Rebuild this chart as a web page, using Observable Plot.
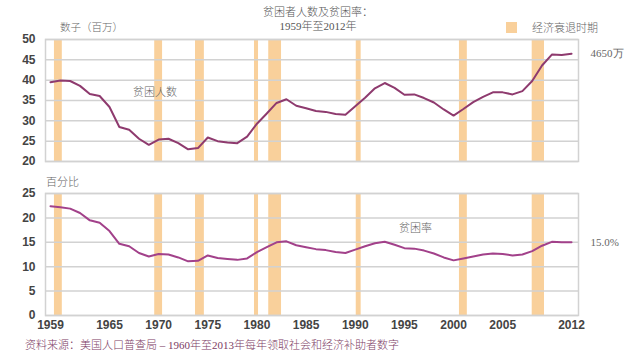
<!DOCTYPE html>
<html><head><meta charset="utf-8">
<script src="https://cdn.jsdelivr.net/npm/d3@7"></script>
<script src="https://cdn.jsdelivr.net/npm/@observablehq/plot@0.6"></script>
<style>
body{margin:0;background:#fff;}
#wrap{position:relative;width:640px;height:360px;overflow:hidden;font-family:"Liberation Serif","Noto Sans CJK SC",serif;}
.t{position:absolute;white-space:nowrap;color:#666;font-size:11px;line-height:1;transform:translateY(-50%);font-weight:300;}
.p{position:absolute;}
</style></head><body><div id="wrap"></div>
<script>
const years = [1959,1960,1961,1962,1963,1964,1965,1966,1967,1968,1969,1970,1971,1972,1973,1974,1975,1976,1977,1978,1979,1980,1981,1982,1983,1984,1985,1986,1987,1988,1989,1990,1991,1992,1993,1994,1995,1996,1997,1998,1999,2000,2001,2002,2003,2004,2005,2006,2007,2008,2009,2010,2011,2012];
const povertyCount = [39.5,39.9,39.8,38.6,36.6,36.1,33.4,28.5,27.8,25.6,24.1,25.4,25.6,24.5,23.0,23.3,25.9,25.0,24.7,24.5,26.1,29.3,31.8,34.4,35.3,33.7,33.1,32.4,32.2,31.7,31.5,33.6,35.7,38.0,39.3,38.1,36.4,36.5,35.6,34.5,32.8,31.3,32.9,34.6,35.9,37.0,37.0,36.5,37.3,39.8,43.6,46.3,46.2,46.5];
const povertyRate = [22.4,22.2,21.9,21.0,19.5,19.0,17.3,14.7,14.2,12.8,12.1,12.6,12.5,11.9,11.1,11.2,12.3,11.8,11.6,11.4,11.7,13.0,14.0,15.0,15.2,14.4,14.0,13.6,13.4,13.0,12.8,13.5,14.2,14.8,15.1,14.5,13.8,13.7,13.3,12.7,11.9,11.3,11.7,12.1,12.5,12.7,12.6,12.3,12.5,13.2,14.3,15.1,15.0,15.0];
const recessionStart = [1959.4,1969.6,1973.75,1979.75,1981.2,1990.1,2000.6,2008.0];
const recessionEnd   = [1960.2,1970.4,1974.65,1980.16,1982.5,1990.6,2001.4,2009.25];
const xTicks = [1959,1965,1970,1975,1980,1985,1990,1995,2000,2005,2012];
const yTicksTop = [20,25,30,35,40,45,50];
const yTicksBottom = [0,5,10,15,20,25];
const endLabelTop = "4650万";
const endLabelBottom = "15.0%";

const rows = years.map((y,i)=>({year:y,count:povertyCount[i],rate:povertyRate[i]}));
const rec = recessionStart.map((s,i)=>({s,e:recessionEnd[i]}));
const last = rows[rows.length-1];
const xDomain = [1958.49, 2012.71];
const bandColor = "#f9d09b";
const gridColor = "#d2d2d2";
const axisStyle = {fontFamily:"'Liberation Sans', Arial, sans-serif", fontSize:"12px", fontWeight:"bold", color:"#444", background:"transparent", overflow:"visible"};

const wrap = document.getElementById("wrap");

function panel(yKey, yDomain, yTicks, color, endLabel, top, mb, showX){
  const marks = [
    Plot.rect(rec, {x1:"s", x2:"e", fill:bandColor}),
    Plot.ruleY(yTicks, {stroke:gridColor, strokeWidth:1.5}),
    Plot.frame({stroke:gridColor, strokeWidth:1.5}),
    Plot.line(rows, {x:"year", y:yKey, stroke:color, strokeWidth:2, strokeLinejoin:"round"}),
    Plot.text([last], {x:"year", y:yKey, text:()=>endLabel, textAnchor:"start", dx:19, fontFamily:"'Liberation Serif', serif", fontSize:11, fontWeight:"normal", fill:"#666"}),
    Plot.axisY({ticks:yTicks, tickSize:0, tickPadding:10, fontWeight:"bold", fontSize:12, fill:"#444"})
  ];
  if (showX) marks.push(Plot.axisX({ticks:xTicks, tickSize:0, tickPadding:5, tickFormat:d=>String(d), fontWeight:"bold", fontSize:12, fill:"#444"}));
  else marks.push(Plot.axisX({ticks:[], tickSize:0}));
  const svg = Plot.plot({
    width:640, height:6+122+mb,
    marginTop:6, marginBottom:mb, marginLeft:45, marginRight:62,
    x:{domain:xDomain, label:null},
    y:{domain:yDomain, label:null},
    style:axisStyle,
    marks
  });
  svg.classList.add("p");
  svg.style.left="0px"; svg.style.top=top+"px";
  wrap.appendChild(svg);
}
panel("count",[20,50],yTicksTop,"#8e3a6e",endLabelTop,33,6,false);
panel("rate",[0,25],yTicksBottom,"#a2418a",endLabelBottom,187,30,true);

function txt(s, x, y, opts={}){
  const d=document.createElement("div");
  d.className="t"; d.textContent=s;
  d.style.left=x+"px"; d.style.top=y+"px";
  Object.assign(d.style, opts);
  wrap.appendChild(d);
  return d;
}
txt("贫困者人数及贫困率：",318,12,{color:"#555",transform:"translate(-50%,-50%)"});
txt("1959年至2012年",318,26,{color:"#555",transform:"translate(-50%,-50%)"});
txt("数子（百万）",60,28,{fontSize:"10.5px"});
txt("百分比",46,182);
txt("贫困人数",133,92);
txt("贫困率",399,228);
txt("经济衰退时期",532,28);
const sw=document.createElement("div");
Object.assign(sw.style,{position:"absolute",left:"506px",top:"22px",width:"11px",height:"11px",background:bandColor});
wrap.appendChild(sw);
txt("资料来源：美国人口普查局 – 1960年至2013年每年领取社会和经济补助者数字",25,345,{color:"#7d3c64"});
</script>
</body></html>
